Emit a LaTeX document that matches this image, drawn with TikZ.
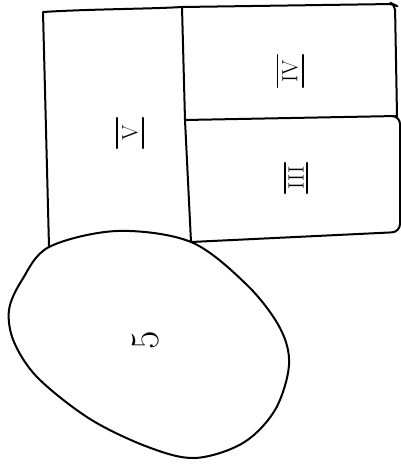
\documentclass[tikz,border=0pt]{standalone}
\begin{document}
\begin{tikzpicture}[x=1pt,y=-1pt,
  edge/.style={line width=2pt, line join=round, line cap=round},
  bar/.style={line width=1.6pt, line cap=round},
  lab/.style={inner sep=0pt, rotate=90, font=\fontsize{22}{24}\selectfont},
  numlab/.style={inner sep=0pt, rotate=90, font=\fontsize{40}{44}\selectfont}]
\useasboundingbox (0,0) rectangle (401,466);
% corners
\coordinate (a) at (43,12);
\coordinate (b) at (182,7);
\coordinate (c) at (393,4);
\coordinate (d) at (397,116);
\coordinate (e) at (185,120);
\coordinate (f) at (400,232);
\coordinate (g) at (191,242);
\coordinate (h) at (49,247);
% left room
\draw[edge] (h) -- (a) .. controls (90,9) and (150,9) .. (b) -- (e) -- (g);
% top right room
\draw[edge, rounded corners=5pt] (b) -- (c) -- (395,5) -- (d);
\draw[edge] (e) -- (d);
% bottom right room
\draw[edge, rounded corners=8pt] (d) -- (400,116) -- (f) -- (g);
% egg
\draw[edge] plot[smooth cycle, tension=0.55] coordinates {
 (49,247) (117,231) (191,242) (247,285) (280,328) (289,365) (275,410)
 (243,443) (195,458) (148,447) (90,419) (38,378) (14,342) (9,310) (22,280)};
% labels
\node[lab, minimum width=30pt, minimum height=26pt] (lV) at (130,133) {V};
\node[lab, minimum width=32pt, minimum height=25pt] (lIV) at (290,71) {IV};
\node[lab, minimum width=30pt, minimum height=22pt] (lIII) at (296,178) {III};
\foreach \n in {lV,lIV,lIII}{
  \draw[bar] (\n.north west) -- (\n.north east);
  \draw[bar] (\n.south west) -- (\n.south east);
}
\node[numlab] (l5) at (146,340) {5};
\end{tikzpicture}
\end{document}
